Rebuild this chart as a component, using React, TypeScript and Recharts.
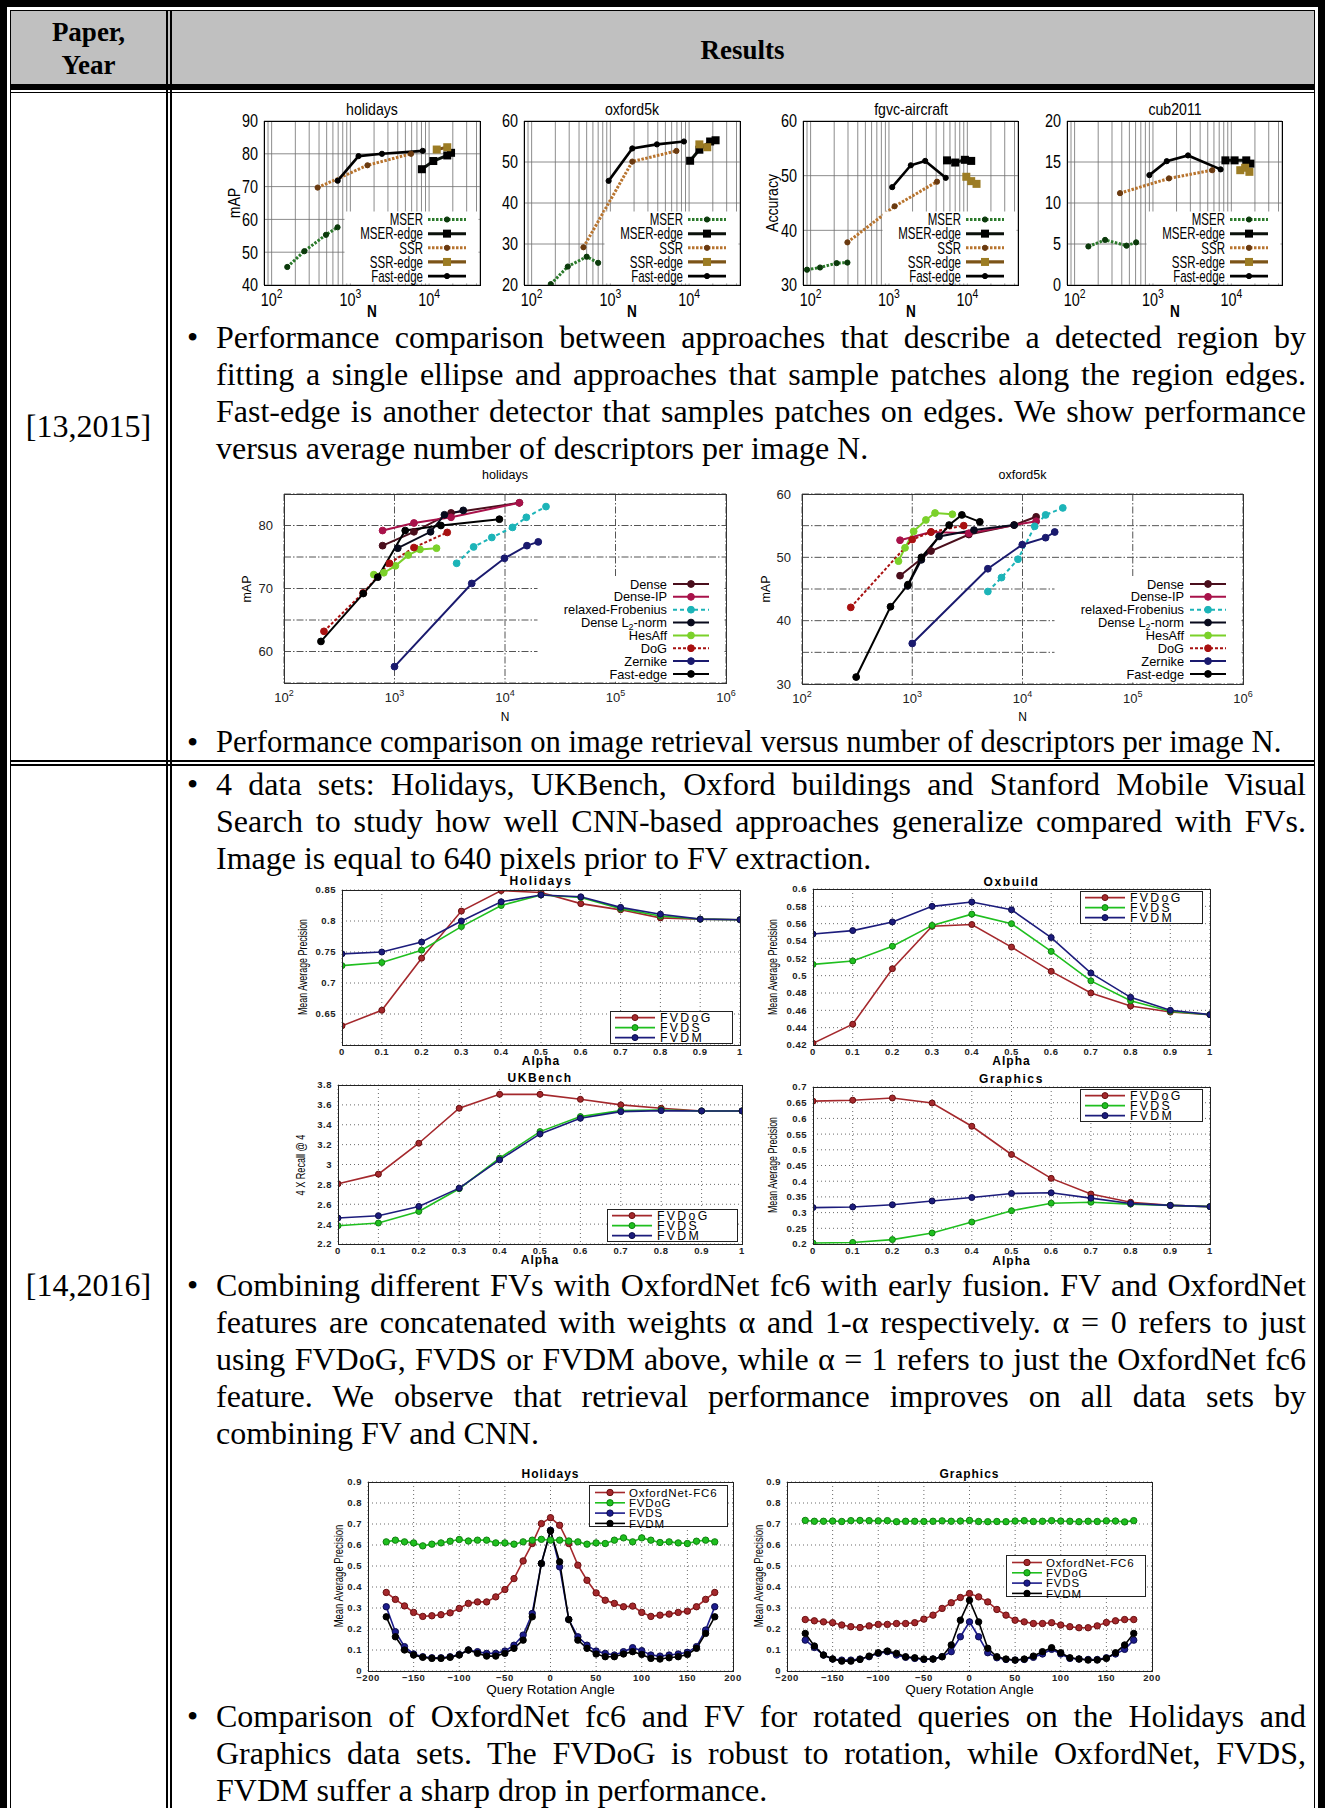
import React from 'react';
import { LineChart, Line, XAxis, YAxis, CartesianGrid } from 'recharts';

const SERIF = "'Liberation Serif', 'Times New Roman', Times, serif";
const SANS = "'Liberation Sans', Arial, Helvetica, sans-serif";

type Pt = [number, number];
type Rect = { x: number; y: number; w: number; h: number };
const pts = (a: Pt[]) => a.map(([x, y]) => ({ x, y }));

// ---- row 1, top: descriptors per image (N) ----
const n1Domain: [number, number] = [80, 44300];
const n1Ticks = [80, 90, 100, 200, 300, 400, 500, 600, 700, 800, 900, 1000, 2000, 3000, 4000, 5000, 6000, 7000, 8000, 9000, 10000, 20000, 30000, 40000];

const holMser: Pt[] = [[158, 45.5], [260, 50.3], [490, 55.3], [687, 57.6]];
const holMserEdge: Pt[] = [[8100, 75.3], [11300, 77.8], [17000, 79.5], [19000, 80.3]];
const holSsr: Pt[] = [[384, 69.7], [1650, 76.5], [5900, 80.0]];
const holSsrEdge: Pt[] = [[12500, 81.3], [17000, 82.0]];
const holFast: Pt[] = [[690, 71.8], [1270, 79.3], [2520, 80.0], [8300, 80.9]];

const oxMser: Pt[] = [[175, 20.2], [288, 24.5], [500, 26.9], [700, 25.4]];
const oxMserEdge: Pt[] = [[10300, 50.3], [13500, 53.0], [18500, 55.0], [21700, 55.3]];
const oxSsr: Pt[] = [[455, 29.2], [1900, 50.1], [6900, 52.7]];
const oxSsrEdge: Pt[] = [[13500, 54.3], [17000, 53.6]];
const oxFast: Pt[] = [[950, 45.4], [1900, 53.3], [3900, 54.3], [8600, 55.0]];

const fgMser: Pt[] = [[90, 32.8], [132, 33.2], [215, 34.0], [295, 34.1]];
const fgMserEdge: Pt[] = [[5500, 52.8], [7000, 52.4], [9300, 52.9], [11200, 52.7]];
const fgSsr: Pt[] = [[295, 37.8], [1180, 44.4], [4100, 48.9]];
const fgSsrEdge: Pt[] = [[9700, 49.8], [11200, 49.0], [13100, 48.5]];
const fgFast: Pt[] = [[1100, 47.9], [1900, 51.9], [2900, 52.7], [5300, 49.6]];

const cbMser: Pt[] = [[150, 4.7], [245, 5.5], [460, 4.8], [610, 5.2]];
const cbMserEdge: Pt[] = [[8400, 15.2], [11000, 15.2], [15500, 15.2], [17500, 14.8]];
const cbSsr: Pt[] = [[380, 11.2], [1600, 13.0], [5700, 14.0]];
const cbSsrEdge: Pt[] = [[13000, 14.0], [15000, 14.3], [17000, 13.8]];
const cbFast: Pt[] = [[900, 13.4], [1500, 15.1], [2800, 15.8], [7300, 14.1]];

// ---- row 1, bottom ----
const n2Domain: [number, number] = [100, 1000000];
const n2Ticks = [100, 1000, 10000, 100000, 1000000];

const h2Dense: Pt[] = [[780, 76.8], [1500, 79.0], [3250, 82.0], [13500, 83.6]];
const h2DenseIP: Pt[] = [[780, 79.2], [1500, 80.4], [3250, 81.3], [13500, 83.6]];
const h2Frob: Pt[] = [[3650, 74.0], [5200, 76.6], [7600, 78.1], [11700, 79.7], [15600, 81.3], [23500, 83.0]];
const h2DenseL2: Pt[] = [[1070, 76.4], [2120, 79.0], [2830, 81.7], [4190, 82.4]];
const h2HesAff: Pt[] = [[650, 72.2], [800, 72.5], [1020, 73.6], [1330, 75.3], [1700, 76.2], [2400, 76.4]];
const h2DoG: Pt[] = [[230, 63.2], [520, 69.3], [900, 74.0], [1500, 76.5], [3000, 78.9]];
const h2Zernike: Pt[] = [[1000, 57.6], [5000, 70.8], [9900, 74.8], [15800, 76.8], [20000, 77.4]];
const h2Fast: Pt[] = [[216, 61.6], [522, 69.2], [706, 71.8], [1250, 79.2], [2630, 80.0], [8900, 81.0]];

const o2Dense: Pt[] = [[775, 47.1], [1480, 51.0], [3260, 53.6], [8400, 55.1], [13300, 56.4]];
const o2DenseIP: Pt[] = [[775, 52.7], [1480, 54.0], [3260, 53.8], [13300, 55.7]];
const o2Frob: Pt[] = [[4850, 44.6], [6450, 46.8], [9100, 49.7], [12900, 54.9], [16200, 56.7], [23200, 57.8]];
const o2DenseL2: Pt[] = [[910, 45.5], [1210, 49.6], [1750, 53.3], [3630, 54.3], [8400, 55.1]];
const o2HesAff: Pt[] = [[750, 49.4], [860, 51.5], [1030, 54.1], [1330, 55.9], [1610, 57.0], [2310, 56.8]];
const o2DoG: Pt[] = [[277, 42.1], [1000, 52.8], [1480, 54.0], [2930, 55.0]];
const o2Zernike: Pt[] = [[1000, 36.4], [4850, 48.2], [9950, 52.0], [16200, 53.1], [19600, 54.0]];
const o2Fast: Pt[] = [[310, 31.1], [635, 42.2], [915, 45.7], [1210, 50.0], [2160, 55.1], [2820, 56.7], [4100, 55.6]];

// ---- row 2: alpha fusion ----
const alphas = [0, 0.1, 0.2, 0.3, 0.4, 0.5, 0.6, 0.7, 0.8, 0.9, 1];
const holFVDoG = [0.631, 0.656, 0.740, 0.816, 0.849, 0.846, 0.828, 0.818, 0.805, 0.803, 0.802];
const holFVDS = [0.728, 0.733, 0.753, 0.791, 0.825, 0.842, 0.838, 0.820, 0.808, 0.803, 0.802];
const holFVDM = [0.747, 0.750, 0.766, 0.800, 0.831, 0.842, 0.839, 0.822, 0.811, 0.803, 0.802];
const oxbFVDoG = [0.422, 0.444, 0.508, 0.557, 0.559, 0.533, 0.505, 0.480, 0.465, 0.458, 0.455];
const oxbFVDS = [0.513, 0.517, 0.534, 0.558, 0.571, 0.560, 0.528, 0.494, 0.471, 0.459, 0.455];
const oxbFVDM = [0.548, 0.552, 0.562, 0.580, 0.585, 0.576, 0.544, 0.503, 0.475, 0.460, 0.455];
const ukbFVDoG = [2.806, 2.903, 3.214, 3.566, 3.706, 3.706, 3.656, 3.600, 3.566, 3.539, 3.539];
const ukbFVDS = [2.384, 2.411, 2.528, 2.756, 3.064, 3.331, 3.482, 3.542, 3.549, 3.539, 3.539];
const ukbFVDM = [2.461, 2.485, 2.578, 2.762, 3.047, 3.308, 3.465, 3.532, 3.542, 3.539, 3.539];
const graFVDoG = [0.655, 0.658, 0.665, 0.649, 0.575, 0.485, 0.409, 0.359, 0.333, 0.323, 0.319];
const graFVDS = [0.203, 0.205, 0.214, 0.235, 0.270, 0.306, 0.330, 0.333, 0.327, 0.323, 0.319];
const graFVDM = [0.316, 0.318, 0.325, 0.337, 0.348, 0.361, 0.363, 0.346, 0.329, 0.323, 0.319];

// ---- row 2: rotated queries ----
const angles = [-180, -170, -160, -150, -140, -130, -120, -110, -100, -90, -80, -70, -60, -50, -40, -30, -20, -10, 0, 10, 20, 30, 40, 50, 60, 70, 80, 90, 100, 110, 120, 130, 140, 150, 160, 170, 180];
const rhOxf = [0.374, 0.341, 0.310, 0.279, 0.260, 0.263, 0.268, 0.277, 0.298, 0.322, 0.329, 0.329, 0.353, 0.388, 0.440, 0.524, 0.607, 0.702, 0.730, 0.694, 0.607, 0.504, 0.432, 0.372, 0.337, 0.322, 0.306, 0.309, 0.279, 0.260, 0.266, 0.271, 0.279, 0.285, 0.306, 0.341, 0.374];
const rhDoG = [0.615, 0.623, 0.615, 0.610, 0.596, 0.604, 0.610, 0.618, 0.626, 0.619, 0.623, 0.623, 0.610, 0.610, 0.604, 0.615, 0.623, 0.627, 0.623, 0.623, 0.619, 0.615, 0.604, 0.610, 0.607, 0.623, 0.634, 0.615, 0.634, 0.623, 0.612, 0.615, 0.610, 0.607, 0.618, 0.623, 0.615];
const rhDS = [0.306, 0.187, 0.116, 0.081, 0.068, 0.063, 0.063, 0.068, 0.079, 0.100, 0.092, 0.084, 0.084, 0.095, 0.123, 0.171, 0.274, 0.512, 0.670, 0.496, 0.245, 0.163, 0.123, 0.095, 0.084, 0.076, 0.092, 0.111, 0.097, 0.076, 0.071, 0.076, 0.081, 0.089, 0.116, 0.195, 0.306];
const rhDM = [0.258, 0.163, 0.100, 0.076, 0.065, 0.060, 0.060, 0.065, 0.076, 0.100, 0.084, 0.071, 0.071, 0.084, 0.108, 0.147, 0.258, 0.512, 0.667, 0.520, 0.245, 0.147, 0.108, 0.081, 0.068, 0.068, 0.081, 0.092, 0.079, 0.060, 0.057, 0.063, 0.068, 0.079, 0.108, 0.179, 0.258];
const rgOxf = [0.245, 0.239, 0.234, 0.230, 0.219, 0.211, 0.207, 0.215, 0.222, 0.222, 0.226, 0.226, 0.230, 0.247, 0.266, 0.298, 0.325, 0.350, 0.369, 0.353, 0.329, 0.293, 0.266, 0.242, 0.234, 0.226, 0.226, 0.230, 0.219, 0.211, 0.206, 0.206, 0.215, 0.231, 0.239, 0.245, 0.245];
const rgDoG = [0.717, 0.713, 0.713, 0.714, 0.712, 0.716, 0.717, 0.716, 0.715, 0.716, 0.711, 0.713, 0.713, 0.712, 0.713, 0.715, 0.713, 0.714, 0.717, 0.712, 0.711, 0.712, 0.711, 0.714, 0.716, 0.712, 0.713, 0.716, 0.714, 0.713, 0.711, 0.713, 0.712, 0.715, 0.714, 0.710, 0.716];
const rgDS = [0.147, 0.112, 0.076, 0.057, 0.052, 0.052, 0.057, 0.068, 0.084, 0.092, 0.076, 0.065, 0.060, 0.055, 0.057, 0.068, 0.092, 0.163, 0.234, 0.163, 0.087, 0.063, 0.055, 0.052, 0.055, 0.065, 0.081, 0.103, 0.081, 0.060, 0.057, 0.055, 0.055, 0.063, 0.081, 0.103, 0.147];
const rgDM = [0.179, 0.119, 0.076, 0.057, 0.047, 0.047, 0.055, 0.071, 0.087, 0.095, 0.084, 0.068, 0.063, 0.057, 0.057, 0.068, 0.124, 0.242, 0.337, 0.234, 0.108, 0.068, 0.057, 0.052, 0.057, 0.071, 0.092, 0.111, 0.087, 0.063, 0.057, 0.052, 0.052, 0.060, 0.087, 0.124, 0.179];

// ---- styles ----
type Sty = { color: string; width: number; dash?: string; mark: 'c' | 's'; mfill: string; mstroke?: string; msize: number };

const edgeStyles: Record<string, Sty> = {
  'MSER': { color: '#2b7a2b', width: 3, dash: '2.5 1.5', mark: 'c', mfill: '#0b3a0b', msize: 2.6 },
  'MSER-edge': { color: '#0c120c', width: 3, mark: 's', mfill: '#000', msize: 4 },
  'SSR': { color: '#b8742e', width: 3, dash: '2.5 1.5', mark: 'c', mfill: '#6a3a10', msize: 2.6 },
  'SSR-edge': { color: '#7c5418', width: 3.2, mark: 's', mfill: '#9c7c24', msize: 4 },
  'Fast-edge': { color: '#000', width: 2.6, mark: 'c', mfill: '#000', msize: 2.6 },
};

const descStyles: Record<string, Sty> = {
  'Dense': { color: '#4a0e1c', width: 2, mark: 'c', mfill: '#4a0e1c', msize: 3.4 },
  'Dense-IP': { color: '#a8124a', width: 2, mark: 'c', mfill: '#a8124a', msize: 3.4 },
  'relaxed-Frobenius': { color: '#1cb4b8', width: 2, dash: '4 3', mark: 'c', mfill: '#1cb4b8', msize: 3.4 },
  'Dense L2-norm': { color: '#080a1c', width: 2, mark: 'c', mfill: '#080a1c', msize: 3.4 },
  'HesAff': { color: '#7bd12a', width: 2, mark: 'c', mfill: '#7bd12a', msize: 3.4 },
  'DoG': { color: '#a81010', width: 2, dash: '3 2', mark: 'c', mfill: '#a81010', msize: 3.4 },
  'Zernike': { color: '#1a1a6e', width: 2, mark: 'c', mfill: '#1a1a6e', msize: 3.4 },
  'Fast-edge': { color: '#000', width: 2, mark: 'c', mfill: '#000', msize: 3.4 },
};

const matStyles: Record<string, Sty> = {
  'FVDoG': { color: '#a4282c', width: 1.6, mark: 'c', mfill: '#a4282c', mstroke: '#6a1010', msize: 3 },
  'FVDS': { color: '#1fbf1f', width: 1.6, mark: 'c', mfill: '#1fbf1f', mstroke: '#108010', msize: 3 },
  'FVDM': { color: '#1c1c7c', width: 1.6, mark: 'c', mfill: '#1c1c7c', mstroke: '#0c0c4c', msize: 3 },
};

const rotStyles: Record<string, Sty> = {
  'OxfordNet-FC6': { color: '#a4282c', width: 1.6, mark: 'c', mfill: '#a4282c', mstroke: '#6a1010', msize: 3.2 },
  'FVDoG': { color: '#1fbf1f', width: 1.6, mark: 'c', mfill: '#1fbf1f', mstroke: '#108010', msize: 3.2 },
  'FVDS': { color: '#1c1c8c', width: 1.6, mark: 'c', mfill: '#1c1c8c', mstroke: '#0c0c4c', msize: 3.2 },
  'FVDM': { color: '#000', width: 1.6, mark: 'c', mfill: '#000', mstroke: '#000', msize: 3.2 },
};

type TickFont = { size: number; sx?: number; weight?: number; fill?: string; ls?: number };
const f1Tick: TickFont = { size: 18, sx: 0.8, fill: '#000' };
const f2Tick: TickFont = { size: 13, fill: '#222' };
const f3Tick: TickFont = { size: 9.5, weight: 700, fill: '#222', ls: 0.5 };

const markDot = (s: Sty) => (p: any) => {
  if (p.cx == null || p.cy == null) return <g key={p.index} />;
  return s.mark === 's'
    ? <rect key={p.index} x={p.cx - s.msize} y={p.cy - s.msize} width={s.msize * 2} height={s.msize * 2} fill={s.mfill} />
    : <circle key={p.index} cx={p.cx} cy={p.cy} r={s.msize} fill={s.mfill} stroke={s.mstroke ?? s.mfill} strokeWidth={1} />;
};

function powTick(p: any, f: TickFont, dy: number, sup: number) {
  const e = Math.log10(p.payload.value);
  if (Math.abs(e - Math.round(e)) > 1e-9) return <g />;
  return (
    <text transform={`translate(${p.x},${p.y + dy}) scale(${f.sx ?? 1},1)`} textAnchor="middle" fontFamily={SANS} fontSize={f.size} fill={f.fill}>
      10<tspan dy={-f.size * 0.42} fontSize={sup}>{Math.round(e)}</tspan>
    </text>
  );
}

function yTick(p: any, f: TickFont, fmt: (v: number) => string, gap: number) {
  return (
    <text transform={`translate(${p.x - gap},${p.y}) scale(${f.sx ?? 1},1)`} dy="0.36em" textAnchor="end" fontFamily={SANS}
      fontSize={f.size} fontWeight={f.weight} fill={f.fill} letterSpacing={f.ls}>{fmt(p.payload.value)}</text>
  );
}

function xTick(p: any, f: TickFont, fmt: (v: number) => string, dy: number) {
  return (
    <text x={p.x} y={p.y + dy} textAnchor="middle" fontFamily={SANS} fontSize={f.size}
      fontWeight={f.weight} fill={f.fill} letterSpacing={f.ls}>{fmt(p.payload.value)}</text>
  );
}

const dec = (v: number) => String(+v.toFixed(2));
const signed = (v: number) => (v < 0 ? `\u2212${-v}` : String(v));

// ---- chart blocks ----
type NSeries = { name: string; data: Pt[] };

function EdgeChart({ r, yDomain, yTicks, series }: { r: Rect; yDomain: [number, number]; yTicks: number[]; series: NSeries[] }) {
  const L = 44, T = 12, R = 6, B = 34;
  const W = r.w + L + R, H = r.h + T + B;
  return (
    <div style={{ position: 'absolute', left: r.x - L, top: r.y - T, width: W, height: H }}>
      <LineChart width={W} height={H} margin={{ top: T, right: R, bottom: 0, left: 0 }}>
        <CartesianGrid stroke="#6e6e6e" strokeWidth={0.8} />
        <XAxis type="number" dataKey="x" scale="log" domain={n1Domain} ticks={n1Ticks} interval={0} allowDataOverflow
          height={B} axisLine={false} tickLine={false} tickSize={0} tick={(p: any) => powTick(p, f1Tick, 18.5, 13)} />
        <YAxis type="number" domain={yDomain} ticks={yTicks} interval={0} allowDataOverflow width={L}
          axisLine={false} tickLine={false} tickSize={0} tick={(p: any) => yTick(p, f1Tick, String, 4)} />
        {series.map((s) => {
          const st = edgeStyles[s.name];
          return (
            <Line key={s.name} data={pts(s.data)} dataKey="y" type="linear" stroke={st.color} strokeWidth={st.width}
              strokeDasharray={st.dash} dot={markDot(st)} activeDot={false} isAnimationActive={false} />
          );
        })}
      </LineChart>
    </div>
  );
}

function DescChart({ r, yDomain, yTicks, series }: { r: Rect; yDomain: [number, number]; yTicks: number[]; series: NSeries[] }) {
  const L = 50, T = 12, R = 18, B = 40;
  const W = r.w + L + R, H = r.h + T + B;
  return (
    <div style={{ position: 'absolute', left: r.x - L, top: r.y - T, width: W, height: H }}>
      <LineChart width={W} height={H} margin={{ top: T, right: R, bottom: 0, left: 0 }}>
        <CartesianGrid stroke="#555" strokeWidth={1} strokeDasharray="7 2 1.5 2" />
        <XAxis type="number" dataKey="x" scale="log" domain={n2Domain} ticks={n2Ticks} interval={0} allowDataOverflow
          height={B} axisLine={false} tickLine={false} tickSize={0} tick={(p: any) => powTick(p, f2Tick, 16.7, 9)} />
        <YAxis type="number" domain={yDomain} ticks={yTicks} interval={0} allowDataOverflow width={L}
          axisLine={false} tickLine={false} tickSize={0}
          tick={(p: any) => yTick(p, f2Tick, (v) => (v % 10 === 0 ? String(v) : ''), 9)} />
        {series.map((s) => {
          const st = descStyles[s.name];
          return (
            <Line key={s.name} data={pts(s.data)} dataKey="y" type="linear" stroke={st.color} strokeWidth={st.width}
              strokeDasharray={st.dash} dot={markDot(st)} activeDot={false} isAnimationActive={false} />
          );
        })}
      </LineChart>
    </div>
  );
}

type MatProps = {
  r: Rect; data: any[]; keys: string[]; styles: Record<string, Sty>;
  xDomain: [number, number]; xTicks: number[]; xFmt: (v: number) => string;
  yDomain: [number, number]; yTicks: number[]; yFmt: (v: number) => string;
};

function MatChart({ r, data, keys, styles, xDomain, xTicks, xFmt, yDomain, yTicks, yFmt }: MatProps) {
  const L = 34, T = 8, R = 10, B = 16;
  const W = r.w + L + R, H = r.h + T + B;
  return (
    <div style={{ position: 'absolute', left: r.x - L, top: r.y - T, width: W, height: H }}>
      <LineChart data={data} width={W} height={H} margin={{ top: T, right: R, bottom: 0, left: 0 }}>
        <CartesianGrid stroke="#6a6a6a" strokeWidth={1} strokeDasharray="1 3" />
        <XAxis type="number" dataKey="x" domain={xDomain} ticks={xTicks} interval={0} allowDataOverflow height={B}
          axisLine={false} tickLine={false} tickSize={0} tick={(p: any) => xTick(p, f3Tick, xFmt, 7.8)} />
        <YAxis type="number" domain={yDomain} ticks={yTicks} interval={0} allowDataOverflow width={L}
          axisLine={false} tickLine={false} tickSize={0} tick={(p: any) => yTick(p, f3Tick, yFmt, 4)} />
        {keys.map((k) => {
          const st = styles[k];
          return (
            <Line key={k} dataKey={k} type="linear" stroke={st.color} strokeWidth={st.width}
              dot={markDot(st)} activeDot={false} isAnimationActive={false} />
          );
        })}
      </LineChart>
    </div>
  );
}

// ---- legends ----
type LegRow = { label: React.ReactNode; sty: Sty };
type LegProps = {
  box: Rect; rows: LegRow[]; first: number; gap: number; textX: number; anchor: 'start' | 'end';
  lx1: number; lx2: number; size: number; sx?: number; ls?: number; border?: string;
};

function LegendSvg({ box, rows, first, gap, textX, anchor, lx1, lx2, size, sx = 1, ls, border }: LegProps) {
  return (
    <svg width={box.w} height={box.h} style={{ position: 'absolute', left: box.x, top: box.y, overflow: 'visible' }}>
      <rect x={0.5} y={0.5} width={box.w - 1} height={box.h - 1} fill="#fff" stroke={border || 'none'} />
      {rows.map((row, i) => {
        const cy = first + i * gap;
        const s = row.sty;
        const mx = (lx1 + lx2) / 2;
        return (
          <g key={i}>
            <line x1={lx1} x2={lx2} y1={cy} y2={cy} stroke={s.color} strokeWidth={s.width} strokeDasharray={s.dash} />
            {s.mark === 's'
              ? <rect x={mx - s.msize} y={cy - s.msize} width={s.msize * 2} height={s.msize * 2} fill={s.mfill} />
              : <circle cx={mx} cy={cy} r={s.msize} fill={s.mfill} stroke={s.mstroke ?? s.mfill} />}
            <text transform={`translate(${textX},${cy}) scale(${sx},1)`} dy="0.36em" textAnchor={anchor}
              fontFamily={SANS} fontSize={size} letterSpacing={ls} fill="#000">
              {row.label}
            </text>
          </g>
        );
      })}
    </svg>
  );
}

function EdgeLegend({ r }: { r: Rect }) {
  const box = { x: r.x + r.w - 136, y: r.y + r.h - 74, w: 135, h: 73 };
  const names = ['MSER', 'MSER-edge', 'SSR', 'SSR-edge', 'Fast-edge'];
  return (
    <LegendSvg box={box} rows={names.map((n) => ({ label: n, sty: edgeStyles[n] }))} first={8.5} gap={14.15}
      textX={79} anchor="end" lx1={84} lx2={122} size={16} sx={0.72} />
  );
}

function DescLegend({ r }: { r: Rect }) {
  const box = { x: r.x + r.w - 189, y: r.y + 83, w: 188, h: r.h - 84 };
  const names = ['Dense', 'Dense-IP', 'relaxed-Frobenius', 'Dense L2-norm', 'HesAff', 'DoG', 'Zernike', 'Fast-edge'];
  const label = (n: string) =>
    n === 'Dense L2-norm'
      ? <>Dense L<tspan dy={3} fontSize={9}>2</tspan><tspan dy={-3}>-norm</tspan></>
      : n;
  return (
    <LegendSvg box={box} rows={names.map((n) => ({ label: label(n), sty: descStyles[n] }))} first={7} gap={12.85}
      textX={130} anchor="end" lx1={136} lx2={172} size={12.8} />
  );
}

function MatLegend({ box, styles }: { box: Rect; styles: Record<string, Sty> }) {
  const names = Object.keys(styles);
  const four = names.length === 4;
  return (
    <LegendSvg box={box} rows={names.map((n) => ({ label: n, sty: styles[n] }))}
      first={four ? 7.5 : 6.6} gap={four ? 10.3 : 10} textX={four ? 40 : 50} anchor="start"
      lx1={four ? 6 : 5} lx2={four ? 36 : 45} size={four ? 11.5 : 12.3} ls={four ? 0.8 : 2.3} border="#222" />
  );
}

// ---- html helpers ----
function T({ x, y, children, size, weight, rot = 0, sx = 1, ls }: any) {
  return (
    <div style={{
      position: 'absolute', left: x, top: y, transform: `translate(-50%,-50%) rotate(${rot}deg) scaleX(${sx})`,
      fontSize: size, fontFamily: SANS, fontWeight: weight, letterSpacing: ls, whiteSpace: 'nowrap', lineHeight: 1, color: '#000',
    }}>{children}</div>
  );
}

function Border({ r, color = '#000' }: { r: Rect; color?: string }) {
  return <div style={{ position: 'absolute', left: r.x, top: r.y, width: r.w + 1, height: r.h + 1, border: `1px solid ${color}`, boxSizing: 'border-box' }} />;
}

function Bullet({ top, lines, size = 32 }: { top: number; lines: string[]; size?: number }) {
  return (
    <div style={{ position: 'absolute', left: 216, top, width: 1090, fontFamily: SERIF, fontSize: size, lineHeight: '37px', color: '#000' }}>
      <div style={{ position: 'absolute', left: -29, top: 0, fontSize: 32 }}>•</div>
      {lines.map((t, i) => {
        const last = i === lines.length - 1;
        return (
          <div key={i} style={{ textAlign: last ? 'left' : 'justify', textAlignLast: last ? 'left' : 'justify', whiteSpace: last ? 'nowrap' : 'normal' }}>
            {t}
          </div>
        );
      })}
    </div>
  );
}

function Table() {
  const b = (l: number, t: number, w: number, h: number, c = '#000') => (
    <div style={{ position: 'absolute', left: l, top: t, width: w, height: h, background: c }} />
  );
  return (
    <>
      {b(11, 11, 1303, 73, '#c0c0c0')}
      {b(0, 0, 1325, 7)}
      {b(0, 0, 7, 1808)}
      {b(1318, 0, 7, 1808)}
      {b(10, 10, 1305, 1)}
      {b(10, 10, 1, 1798)}
      {b(1314, 10, 1, 1798)}
      {b(10, 84, 1305, 6)}
      {b(10, 92, 1305, 1)}
      {b(166, 10, 1.5, 1798)}
      {b(170, 10, 1.5, 1798)}
      {b(10, 760, 1305, 1.5)}
      {b(10, 764, 1305, 1.5)}
    </>
  );
}

// ---- layout ----
const h1R: Rect = { x: 264, y: 121, w: 216, h: 164 };
const o1R: Rect = { x: 524, y: 121, w: 216, h: 164 };
const f1R: Rect = { x: 803, y: 121, w: 215, h: 164 };
const c1R: Rect = { x: 1067, y: 121, w: 215, h: 164 };
const h2R: Rect = { x: 284, y: 494, w: 442, h: 189 };
const o2R: Rect = { x: 802, y: 494, w: 441, h: 190 };
const holAR: Rect = { x: 342, y: 890, w: 398, h: 155 };
const oxbAR: Rect = { x: 813, y: 889, w: 397, h: 156 };
const ukbAR: Rect = { x: 338, y: 1085, w: 404, h: 159 };
const graAR: Rect = { x: 813, y: 1087, w: 397, h: 157 };
const rhR: Rect = { x: 368, y: 1482, w: 365, h: 189 };
const rgR: Rect = { x: 787, y: 1482, w: 365, h: 189 };

const alphaRows = (a: number[], b: number[], c: number[]) =>
  alphas.map((x, i) => ({ x, FVDoG: a[i], FVDS: b[i], FVDM: c[i] }));
const rotRows = (a: number[], b: number[], c: number[], d: number[]) =>
  angles.map((x, i) => ({ x, 'OxfordNet-FC6': a[i], FVDoG: b[i], FVDS: c[i], FVDM: d[i] }));

const cx = (r: Rect) => r.x + r.w / 2;

export default function App() {
  const alphaKeys = ['FVDoG', 'FVDS', 'FVDM'];
  const rotKeys = ['OxfordNet-FC6', 'FVDoG', 'FVDS', 'FVDM'];
  const rotX = [-200, -150, -100, -50, 0, 50, 100, 150, 200];
  const rotY = [0, 0.1, 0.2, 0.3, 0.4, 0.5, 0.6, 0.7, 0.8, 0.9];
  const serifCell = { position: 'absolute' as const, left: 10, width: 157, textAlign: 'center' as const, fontFamily: SERIF };
  return (
    <div style={{ position: 'absolute', left: 0, top: 0, width: 1325, height: 1808, overflow: 'hidden', background: '#fff' }}>
      <Table />

      <div style={{ ...serifCell, top: 16, fontWeight: 700, fontSize: 27, lineHeight: '33px' }}>
        Paper,<br />Year
      </div>
      <div style={{ ...serifCell, left: 171, width: 1143, top: 34, fontWeight: 700, fontSize: 27, lineHeight: '33px' }}>
        Results
      </div>
      <div style={{ ...serifCell, top: 408, fontSize: 32, lineHeight: '37px' }}>[13,2015]</div>
      <div style={{ ...serifCell, top: 1267, fontSize: 32, lineHeight: '37px' }}>[14,2016]</div>

      {/* row 1, top */}
      <EdgeChart r={h1R} yDomain={[40, 90]} yTicks={[40, 50, 60, 70, 80, 90]} series={[
        { name: 'MSER', data: holMser }, { name: 'MSER-edge', data: holMserEdge }, { name: 'SSR', data: holSsr },
        { name: 'SSR-edge', data: holSsrEdge }, { name: 'Fast-edge', data: holFast }]} />
      <EdgeChart r={o1R} yDomain={[20, 60]} yTicks={[20, 30, 40, 50, 60]} series={[
        { name: 'MSER', data: oxMser }, { name: 'MSER-edge', data: oxMserEdge }, { name: 'SSR', data: oxSsr },
        { name: 'SSR-edge', data: oxSsrEdge }, { name: 'Fast-edge', data: oxFast }]} />
      <EdgeChart r={f1R} yDomain={[30, 60]} yTicks={[30, 40, 50, 60]} series={[
        { name: 'MSER', data: fgMser }, { name: 'MSER-edge', data: fgMserEdge }, { name: 'SSR', data: fgSsr },
        { name: 'SSR-edge', data: fgSsrEdge }, { name: 'Fast-edge', data: fgFast }]} />
      <EdgeChart r={c1R} yDomain={[0, 20]} yTicks={[0, 5, 10, 15, 20]} series={[
        { name: 'MSER', data: cbMser }, { name: 'MSER-edge', data: cbMserEdge }, { name: 'SSR', data: cbSsr },
        { name: 'SSR-edge', data: cbSsrEdge }, { name: 'Fast-edge', data: cbFast }]} />
      {[h1R, o1R, f1R, c1R].map((r, i) => <EdgeLegend key={i} r={r} />)}
      {[h1R, o1R, f1R, c1R].map((r, i) => <Border key={i} r={r} />)}
      <T x={cx(h1R)} y={109} size={17} sx={0.83}>holidays</T>
      <T x={cx(o1R)} y={109} size={17} sx={0.83}>oxford5k</T>
      <T x={cx(f1R)} y={109} size={17} sx={0.83}>fgvc-aircraft</T>
      <T x={cx(c1R)} y={109} size={17} sx={0.83}>cub2011</T>
      <T x={234} y={203} size={17} sx={0.83} rot={-90}>mAP</T>
      <T x={772} y={203} size={17} sx={0.83} rot={-90}>Accuracy</T>
      {[h1R, o1R, f1R, c1R].map((r, i) => <T key={i} x={cx(r)} y={312} size={16} sx={0.85} weight={700}>N</T>)}

      <Bullet top={319} lines={[
        'Performance comparison between approaches that describe a detected region by',
        'fitting a single ellipse and approaches that sample patches along the region edges.',
        'Fast-edge is another detector that samples patches on edges. We show performance',
        'versus average number of descriptors per image N.',
      ]} />

      {/* row 1, bottom */}
      <DescChart r={h2R} yDomain={[55, 85]} yTicks={[60, 65, 70, 75, 80]} series={[
        { name: 'Dense', data: h2Dense }, { name: 'Dense-IP', data: h2DenseIP }, { name: 'relaxed-Frobenius', data: h2Frob },
        { name: 'Dense L2-norm', data: h2DenseL2 }, { name: 'HesAff', data: h2HesAff }, { name: 'DoG', data: h2DoG },
        { name: 'Zernike', data: h2Zernike }, { name: 'Fast-edge', data: h2Fast }]} />
      <DescChart r={o2R} yDomain={[30, 60]} yTicks={[30, 35, 40, 45, 50, 55, 60]} series={[
        { name: 'Dense', data: o2Dense }, { name: 'Dense-IP', data: o2DenseIP }, { name: 'relaxed-Frobenius', data: o2Frob },
        { name: 'Dense L2-norm', data: o2DenseL2 }, { name: 'HesAff', data: o2HesAff }, { name: 'DoG', data: o2DoG },
        { name: 'Zernike', data: o2Zernike }, { name: 'Fast-edge', data: o2Fast }]} />
      <DescLegend r={h2R} />
      <DescLegend r={o2R} />
      <Border r={h2R} color="#333" />
      <Border r={o2R} color="#333" />
      <T x={cx(h2R)} y={475} size={12.5}>holidays</T>
      <T x={cx(o2R)} y={475} size={12.5}>oxford5k</T>
      <T x={247} y={589} size={12.5} rot={-90}>mAP</T>
      <T x={766} y={589} size={12.5} rot={-90}>mAP</T>
      <T x={cx(h2R)} y={717} size={12}>N</T>
      <T x={cx(o2R)} y={717} size={12}>N</T>

      <Bullet top={724} size={30.6} lines={['Performance comparison on image retrieval versus number of descriptors per image N.']} />

      {/* row 2 */}
      <Bullet top={766} lines={[
        '4 data sets: Holidays, UKBench, Oxford buildings and Stanford Mobile Visual',
        'Search to study how well CNN-based approaches generalize compared with FVs.',
        'Image is equal to 640 pixels prior to FV extraction.',
      ]} />

      <MatChart r={holAR} data={alphaRows(holFVDoG, holFVDS, holFVDM)} keys={alphaKeys} styles={matStyles}
        xDomain={[0, 1]} xTicks={alphas} xFmt={dec} yDomain={[0.6, 0.85]} yTicks={[0.6, 0.65, 0.7, 0.75, 0.8, 0.85]}
        yFmt={(v) => (v === 0.6 ? '' : dec(v))} />
      <MatChart r={oxbAR} data={alphaRows(oxbFVDoG, oxbFVDS, oxbFVDM)} keys={alphaKeys} styles={matStyles}
        xDomain={[0, 1]} xTicks={alphas} xFmt={dec} yDomain={[0.42, 0.6]}
        yTicks={[0.42, 0.44, 0.46, 0.48, 0.5, 0.52, 0.54, 0.56, 0.58, 0.6]} yFmt={dec} />
      <MatChart r={ukbAR} data={alphaRows(ukbFVDoG, ukbFVDS, ukbFVDM)} keys={alphaKeys} styles={matStyles}
        xDomain={[0, 1]} xTicks={alphas} xFmt={dec} yDomain={[2.2, 3.8]}
        yTicks={[2.2, 2.4, 2.6, 2.8, 3, 3.2, 3.4, 3.6, 3.8]} yFmt={dec} />
      <MatChart r={graAR} data={alphaRows(graFVDoG, graFVDS, graFVDM)} keys={alphaKeys} styles={matStyles}
        xDomain={[0, 1]} xTicks={alphas} xFmt={dec} yDomain={[0.2, 0.7]}
        yTicks={[0.2, 0.25, 0.3, 0.35, 0.4, 0.45, 0.5, 0.55, 0.6, 0.65, 0.7]} yFmt={dec} />
      <MatLegend box={{ x: 610, y: 1011, w: 123, h: 33 }} styles={matStyles} />
      <MatLegend box={{ x: 1080, y: 891, w: 123, h: 33 }} styles={matStyles} />
      <MatLegend box={{ x: 607, y: 1209, w: 131, h: 33 }} styles={matStyles} />
      <MatLegend box={{ x: 1080, y: 1089, w: 123, h: 33 }} styles={matStyles} />
      {[holAR, oxbAR, ukbAR, graAR].map((r, i) => <Border key={i} r={r} color="#222" />)}
      <T x={cx(holAR)} y={881} size={12} weight={700} ls={1.6}>Holidays</T>
      <T x={cx(oxbAR)} y={881.5} size={12} weight={700} ls={1.6}>Oxbuild</T>
      <T x={cx(ukbAR)} y={1077.5} size={12} weight={700} ls={1.6}>UKBench</T>
      <T x={cx(graAR)} y={1079} size={12} weight={700} ls={1.6}>Graphics</T>
      <T x={303} y={967} size={12.5} rot={-90} sx={0.71}>Mean Average Precision</T>
      <T x={773} y={967} size={12.5} rot={-90} sx={0.71}>Mean Average Precision</T>
      <T x={300} y={1165} size={13} rot={-90} sx={0.7}>4 X Recall @ 4</T>
      <T x={773} y={1165} size={12.5} rot={-90} sx={0.71}>Mean Average Precision</T>
      <T x={cx(holAR)} y={1061} size={12} weight={700} ls={1}>Alpha</T>
      <T x={cx(oxbAR)} y={1061} size={12} weight={700} ls={1}>Alpha</T>
      <T x={cx(ukbAR)} y={1260} size={12} weight={700} ls={1}>Alpha</T>
      <T x={cx(graAR)} y={1260.5} size={12} weight={700} ls={1}>Alpha</T>

      <Bullet top={1267} lines={[
        'Combining different FVs with OxfordNet fc6 with early fusion. FV and OxfordNet',
        'features are concatenated with weights α and 1-α respectively. α = 0 refers to just',
        'using FVDoG, FVDS or FVDM above, while α = 1 refers to just the OxfordNet fc6',
        'feature. We observe that retrieval performance improves on all data sets by',
        'combining FV and CNN.',
      ]} />

      <MatChart r={rhR} data={rotRows(rhOxf, rhDoG, rhDS, rhDM)} keys={rotKeys} styles={rotStyles}
        xDomain={[-200, 200]} xTicks={rotX} xFmt={signed} yDomain={[0, 0.9]} yTicks={rotY} yFmt={dec} />
      <MatChart r={rgR} data={rotRows(rgOxf, rgDoG, rgDS, rgDM)} keys={rotKeys} styles={rotStyles}
        xDomain={[-200, 200]} xTicks={rotX} xFmt={signed} yDomain={[0, 0.9]} yTicks={rotY} yFmt={dec} />
      <MatLegend box={{ x: 589, y: 1485, w: 139, h: 42 }} styles={rotStyles} />
      <MatLegend box={{ x: 1006, y: 1555, w: 140, h: 42 }} styles={rotStyles} />
      <Border r={rhR} color="#222" />
      <Border r={rgR} color="#222" />
      <T x={cx(rhR)} y={1473.5} size={12} weight={700} ls={1}>Holidays</T>
      <T x={cx(rgR)} y={1473.5} size={12} weight={700} ls={1}>Graphics</T>
      <T x={338} y={1576} size={13} rot={-90} sx={0.73}>Mean Average Precision</T>
      <T x={758} y={1576} size={13} rot={-90} sx={0.73}>Mean Average Precision</T>
      <T x={cx(rhR)} y={1689.5} size={13.5}>Query Rotation Angle</T>
      <T x={cx(rgR)} y={1689.5} size={13.5}>Query Rotation Angle</T>

      <Bullet top={1698} lines={[
        'Comparison of OxfordNet fc6 and FV for rotated queries on the Holidays and',
        'Graphics data sets. The FVDoG is robust to rotation, while OxfordNet, FVDS,',
        'FVDM suffer a sharp drop in performance.',
      ]} />
    </div>
  );
}
